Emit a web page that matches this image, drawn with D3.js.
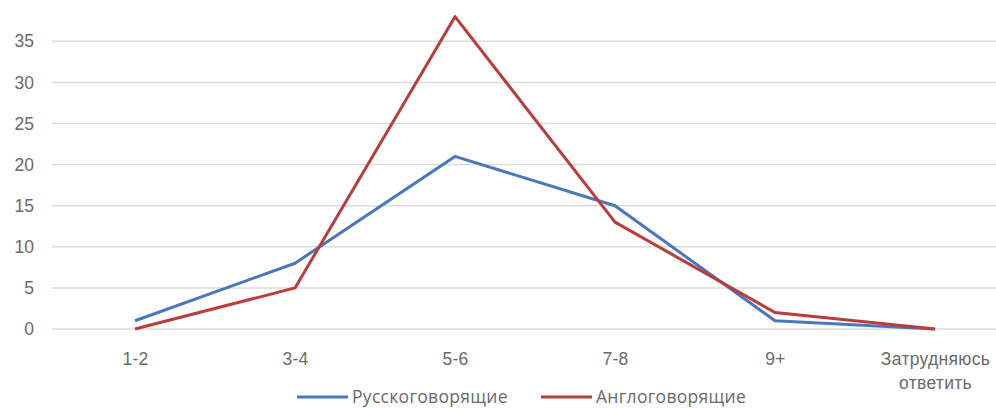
<!DOCTYPE html>
<html><head><meta charset="utf-8">
<script src="https://cdn.jsdelivr.net/npm/d3@7"></script>
<style>body{margin:0;background:#fff;}svg{display:block;font-family:"Open Sans","Liberation Sans",sans-serif;}</style>
</head><body><svg id="c" width="996" height="408"></svg>
<script>
const categories = ["1-2","3-4","5-6","7-8","9+","Затрудняюсь ответить"];
const russianSpeakers = [1,8,21,15,1,0];
const englishSpeakers = [0,5,38,13,2,0];
const yTicks = [0,5,10,15,20,25,30,35];
const seriesNames = ["Русскоговорящие","Англоговорящие"];
const colors = ["#4a76bd","#bb3c3c"];

const svg = d3.select("#c");
const x = d3.scalePoint().domain(categories).range([135,935]);
const y = d3.scaleLinear().domain([0,40]).range([329,0.2]);
const FS = 17.5, TXT = "#6a6a6a";

// gridlines
svg.append("g").selectAll("line").data(yTicks).join("line")
  .attr("x1",52).attr("x2",996)
  .attr("y1",d=>y(d)).attr("y2",d=>y(d))
  .attr("stroke","#dcdcdc").attr("stroke-width",1.5);

// y axis labels
const yAxis = d3.axisLeft(y).tickValues(yTicks).tickSize(0).tickPadding(0);
const ga = svg.append("g").attr("transform","translate(34,0)").call(yAxis);
ga.select(".domain").remove();
ga.selectAll("text").attr("font-size",FS).attr("fill",TXT).attr("font-family","inherit");

// x labels
const xAxis = d3.axisBottom(x).tickSize(0).tickPadding(0);
const gx = svg.append("g").attr("transform","translate(0,359)").call(xAxis);
gx.select(".domain").remove();
gx.selectAll("text").attr("font-size",FS).attr("fill",TXT).attr("font-family","inherit")
  .attr("letter-spacing",0.3)
  .each(function(d){
    const t=d3.select(this); const words=d.split(" ");
    t.text(null);
    words.forEach((w,i)=>t.append("tspan").attr("x",0).attr("dy",i===0?"0.35em":"24px").text(w));
  });

const line = d3.line().x((d,i)=>x(categories[i])).y(d=>y(d));
[russianSpeakers,englishSpeakers].forEach((s,k)=>{
  svg.append("path").datum(s).attr("d",line).attr("fill","none")
    .attr("stroke",colors[k]).attr("stroke-width",3).attr("stroke-linejoin","round");
});

// legend
const lx=[297,541];
seriesNames.forEach((n,k)=>{
  const g=svg.append("g").attr("transform",`translate(${lx[k]},397)`);
  g.append("line").attr("x1",0).attr("x2",51).attr("stroke",colors[k]).attr("stroke-width",3);
  g.append("text").attr("x",55).attr("dy","0.35em").attr("font-size",FS).attr("letter-spacing",0.3)
    .attr("fill",TXT).text(n);
});
</script></body></html>
